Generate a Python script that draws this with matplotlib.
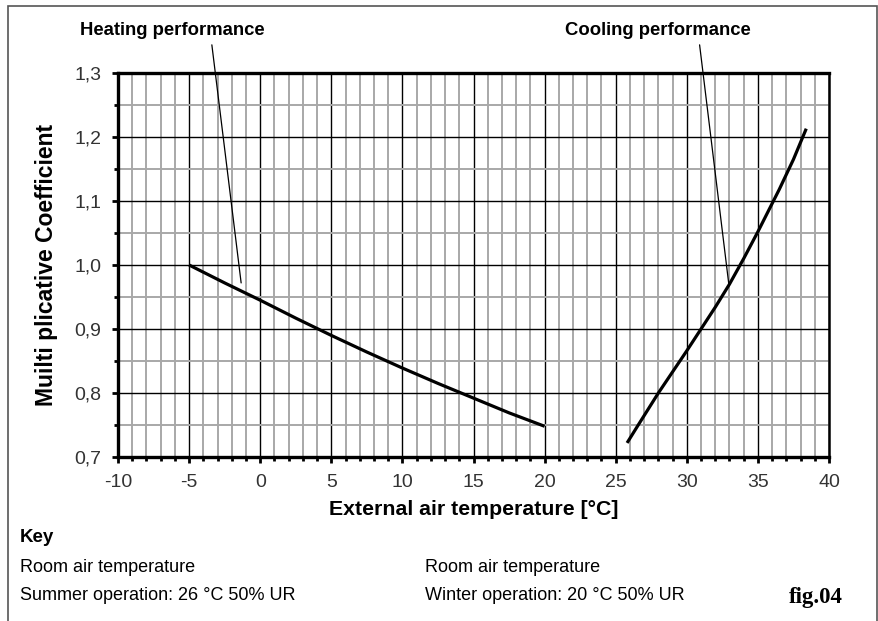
import numpy as np
import matplotlib.pyplot as plt
from matplotlib.patches import Rectangle
from matplotlib.ticker import MultipleLocator, FuncFormatter

# data
heat_t = [-5, -2.5, 0, 2.5, 5, 7.5, 10, 12.5, 15, 17.5, 20]
heat_k = [1.0, 0.972, 0.945, 0.917, 0.890, 0.864, 0.839, 0.815, 0.792, 0.769, 0.748]

cool_t = [25.8, 26.5, 28, 30, 31, 32, 33, 34, 35, 36.5, 37.5, 38.4]
cool_k = [0.722, 0.747, 0.80, 0.866, 0.90, 0.934, 0.970, 1.010, 1.052, 1.118, 1.165, 1.213]

xlim = (-10, 40)
ylim = (0.7, 1.3)

# leader lines: (text pos, line start, line end) in data units
heat_lbl = (-6.2, 1.367)
heat_from, heat_to = (-3.4, 1.344), (-1.34, 0.972)
cool_lbl = (28.0, 1.367)
cool_from, cool_to = (30.9, 1.344), (32.96, 0.969)

sans = ['Liberation Sans', 'DejaVu Sans']

fig = plt.figure(figsize=(8.79, 6.21), dpi=100)
ax = fig.add_axes([118/879, 1 - 457/621, (829 - 118)/879, (457 - 73)/621])

ax.set_xlim(*xlim)
ax.set_ylim(*ylim)

# grid
ax.xaxis.set_major_locator(MultipleLocator(5))
ax.xaxis.set_minor_locator(MultipleLocator(1))
ax.yaxis.set_major_locator(MultipleLocator(0.1))
ax.yaxis.set_minor_locator(MultipleLocator(0.05))
ax.grid(which='minor', color='#a8a8a8', lw=1.4)
ax.grid(which='major', color='black', lw=1.0)
ax.set_axisbelow(True)

for side in ['left', 'bottom', 'top']:
    ax.spines[side].set_linewidth(2.4)
ax.spines['right'].set_linewidth(1.8)

ax.tick_params(which='major', direction='out', length=4, width=2, pad=8)
ax.tick_params(which='minor', direction='out', length=3, width=2)
ax.xaxis.set_major_formatter(FuncFormatter(lambda v, p: f"{v:g}"))
ax.yaxis.set_major_formatter(FuncFormatter(lambda v, p: f"{v:.1f}".replace('.', ',')))
for lab in ax.get_xticklabels() + ax.get_yticklabels():
    lab.set_family(sans)
    lab.set_fontsize(14)
    lab.set_color('#333333')

# curves
ax.plot(heat_t, heat_k, color='black', lw=2.3, solid_capstyle='butt')
ax.plot(cool_t, cool_k, color='black', lw=2.3, solid_capstyle='butt')

# labels and leader lines
ax.text(*heat_lbl, 'Heating performance', ha='center', va='center', fontsize=13.3,
        fontweight='bold', family=sans, clip_on=False)
ax.text(*cool_lbl, 'Cooling performance', ha='center', va='center', fontsize=13.3,
        fontweight='bold', family=sans, clip_on=False)
for a, b in [(heat_from, heat_to), (cool_from, cool_to)]:
    ax.annotate('', xy=b, xytext=a, annotation_clip=False,
                arrowprops=dict(arrowstyle='-', color='black', lw=0.9,
                                shrinkA=0, shrinkB=0))

ax.set_xlabel('External air temperature [°C]', fontsize=15.3, fontweight='bold',
              family=sans, labelpad=7)
ax.set_ylabel('Muilti plicative Coefficient', fontsize=16.5, fontweight='bold',
              family=sans, labelpad=12)

# key below the chart
fig.text(20/879, 1 - 537/621, 'Key', fontsize=13.5, fontweight='bold', family=sans, va='center')
fig.text(20/879, 1 - 567/621, 'Room air temperature', fontsize=13, family=sans, va='center')
fig.text(20/879, 1 - 596/621, 'Summer operation: 26 °C 50% UR', fontsize=13, family=sans, va='center')
fig.text(425/879, 1 - 567/621, 'Room air temperature', fontsize=13, family=sans, va='center')
fig.text(425/879, 1 - 596/621, 'Winter operation: 20 °C 50% UR', fontsize=13, family=sans, va='center')
fig.text(816/879, 1 - 597/621, 'fig.04', fontsize=16.5, fontweight='bold',
         family=['Liberation Serif', 'DejaVu Serif'], ha='center', va='center')

# outer frame
fig.patches.append(Rectangle((8/879, -0.02), (877 - 8)/879, 1.02 - 6/621,
                             transform=fig.transFigure, fill=False,
                             edgecolor='#555555', lw=1.2))

fig.savefig('out.png', dpi=100)
